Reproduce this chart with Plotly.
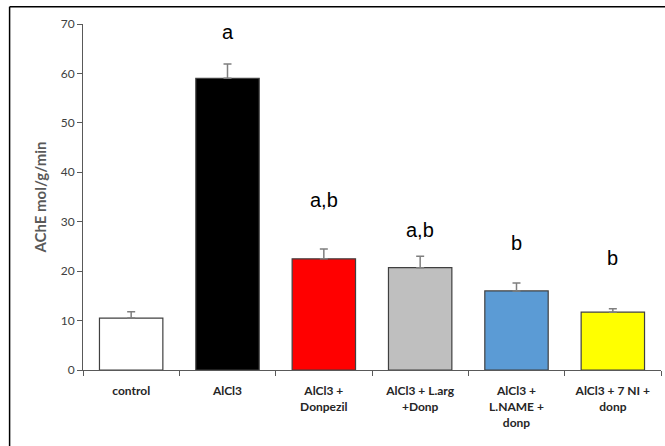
import plotly.graph_objects as go

categories = ["control", "AlCl3", "AlCl3 +<br>Donpezil", "AlCl3 + L.arg<br>+Donp",
              "AlCl3 +<br>L.NAME +<br>donp", "AlCl3 + 7 NI +<br>donp"]
values = [10.5, 59.0, 22.5, 20.7, 16.0, 11.7]
errors = [1.3, 2.9, 2.0, 2.3, 1.6, 0.7]
bar_colors = ["#FFFFFF", "#000000", "#FF0000", "#BFBFBF", "#5B9BD5", "#FFFF00"]
sig_labels = ["", "a", "a,b", "a,b", "b", "b"]
sig_label_y = [None, 68.4, 34.4, 28.3, 25.7, 22.6]

fig = go.Figure()
fig.add_trace(go.Bar(
    x=categories, y=values,
    marker=dict(color=bar_colors, line=dict(color="#404040", width=1.2)),
    error_y=dict(type="data", array=errors, arrayminus=[0] * len(errors),
                 symmetric=False, color="#7F7F7F", thickness=1.5, width=4),
    showlegend=False,
))

for cat, lab, ly in zip(categories, sig_labels, sig_label_y):
    if lab:
        fig.add_annotation(x=cat, y=ly, text=lab, showarrow=False,
                           xanchor="center", yanchor="middle",
                           font=dict(family="Liberation Sans, Arial", size=20, color="#000000"))

# outer frame (left and top edges visible in the image)
fig.add_shape(type="line", xref="paper", yref="paper", x0=-0.127, x1=1.2, y0=1.050, y1=1.050,
              line=dict(color="#000000", width=1.5))
fig.add_shape(type="line", xref="paper", yref="paper", x0=-0.127, x1=-0.127, y0=1.050, y1=-0.4,
              line=dict(color="#000000", width=1.5))

fig.update_layout(
    width=665, height=446,
    margin=dict(l=83, r=4, t=24, b=76),
    plot_bgcolor="#FFFFFF", paper_bgcolor="#FFFFFF",
    bargap=0.342,
    font=dict(family="Lato, Open Sans, sans-serif", color="#404040"),
    xaxis=dict(
        type="category", showgrid=False, showline=True, linecolor="#595959", linewidth=1,
        ticks="outside", tickson="boundaries", ticklen=5, tickcolor="#595959",
        tickfont=dict(family="Lato, Open Sans, sans-serif", size=12, color="#262626", weight="bold"),
        ticklabelstandoff=10, automargin=False,
        range=[-0.5, 5.5],
    ),
    yaxis=dict(
        range=[0, 70], dtick=10, showgrid=False, zeroline=False,
        showline=True, linecolor="#595959", linewidth=1,
        ticks="outside", ticklen=5, tickcolor="#595959", automargin=False,
        tickfont=dict(family="Lato, Open Sans, sans-serif", size=12, color="#404040"),
        title=dict(text="<b>AChE mol/g/min</b>", standoff=10,
                   font=dict(family="Lato, Open Sans, sans-serif", size=15, color="#595959")),
    ),
)

fig.write_html("out.html", config={"displayModeBar": False},
               post_script="document.body.style.margin='0';")
